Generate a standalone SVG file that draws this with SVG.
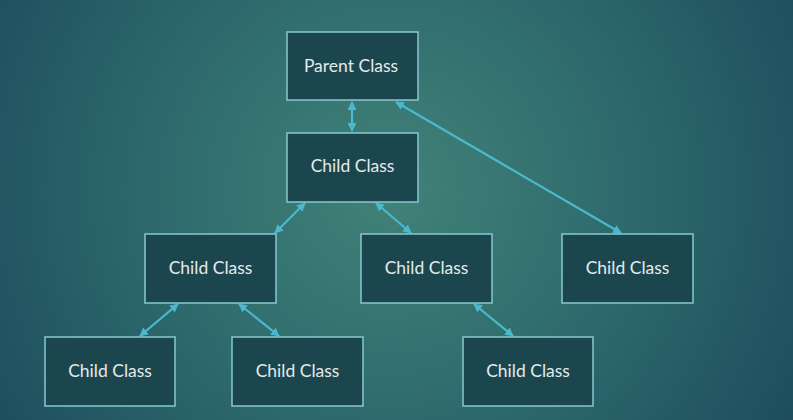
<svg xmlns="http://www.w3.org/2000/svg" width="793" height="420" viewBox="0 0 793 420">
<defs>
<radialGradient id="bg" cx="390" cy="190" r="520" gradientUnits="userSpaceOnUse">
<stop offset="0" stop-color="#418278"/>
<stop offset="0.45" stop-color="#2e6a6d"/>
<stop offset="1" stop-color="#19465a"/>
</radialGradient>
<marker id="ah" viewBox="0 0 10 10" refX="9" refY="5" markerWidth="4" markerHeight="4" orient="auto-start-reverse" markerUnits="strokeWidth">
<path d="M0,0 L10,5 L0,10 z" fill="#4bb8cc"/>
</marker>
<style>
.box{fill:#1c464e;stroke:#86c9d0;stroke-width:1.5}
.lbl{font-family:"Lato","Open Sans",sans-serif;font-size:17.5px;fill:#e2ebeb;text-anchor:middle;dominant-baseline:central}
.con{stroke:#4bb8cc;stroke-width:2.2;fill:none;marker-start:url(#ah);marker-end:url(#ah)}
</style>
</defs>
<rect width="793" height="420" fill="url(#bg)"/>
<g id="connectors">
<line class="con" x1="352" y1="102" x2="352" y2="131"/>
<line class="con" x1="396" y1="102" x2="621" y2="233"/>
<line class="con" x1="305" y1="203" x2="275" y2="233"/>
<line class="con" x1="376" y1="203" x2="411" y2="233"/>
<line class="con" x1="178" y1="304" x2="140" y2="336"/>
<line class="con" x1="239" y1="304" x2="279" y2="336"/>
<line class="con" x1="474" y1="304" x2="513" y2="336"/>
</g>
<g id="parent"><rect class="box" x="287" y="32" width="131" height="68"/><text class="lbl" x="351" y="65">Parent Class</text></g>
<g id="child1"><rect class="box" x="287" y="133" width="131" height="69"/><text class="lbl" x="352.5" y="165">Child Class</text></g>
<g id="child2"><rect class="box" x="145" y="234" width="131" height="69"/><text class="lbl" x="210.5" y="267">Child Class</text></g>
<g id="child3"><rect class="box" x="361" y="234" width="131" height="69"/><text class="lbl" x="426.5" y="267">Child Class</text></g>
<g id="child4"><rect class="box" x="562" y="234" width="131" height="69"/><text class="lbl" x="627.5" y="267">Child Class</text></g>
<g id="child5"><rect class="box" x="45" y="337" width="130" height="69"/><text class="lbl" x="110" y="370">Child Class</text></g>
<g id="child6"><rect class="box" x="232" y="337" width="131" height="69"/><text class="lbl" x="297.5" y="370">Child Class</text></g>
<g id="child7"><rect class="box" x="463" y="337" width="130" height="69"/><text class="lbl" x="528" y="370">Child Class</text></g>
</svg>
